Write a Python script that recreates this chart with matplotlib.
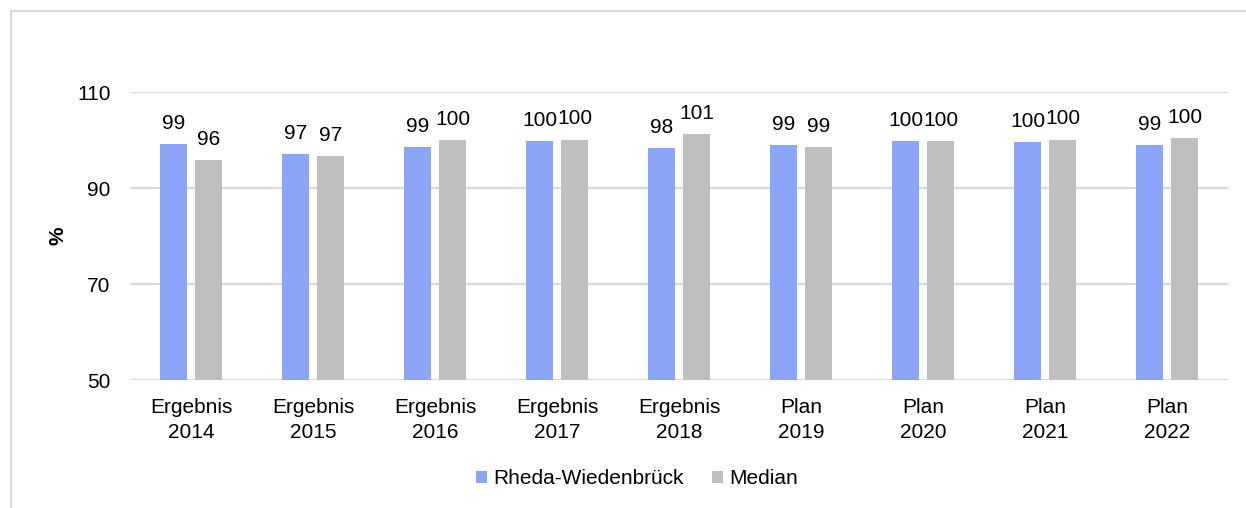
import matplotlib
matplotlib.use('Agg')
import matplotlib.pyplot as plt
from matplotlib.lines import Line2D
import numpy as np

plt.rcParams['font.family'] = ['Liberation Sans', 'DejaVu Sans']

categories = ['Ergebnis\n2014', 'Ergebnis\n2015', 'Ergebnis\n2016', 'Ergebnis\n2017',
              'Ergebnis\n2018', 'Plan\n2019', 'Plan\n2020', 'Plan\n2021', 'Plan\n2022']
rheda = [99.1, 97.0, 98.6, 99.8, 98.3, 98.9, 99.8, 99.6, 99.0]
median = [95.8, 96.6, 99.9, 100.1, 101.2, 98.6, 99.8, 100.1, 100.4]
series_names = ['Rheda-Wiedenbrück', 'Median']

blue = '#8BA5F8'
grey = '#BFBFBF'
grid_col = '#D9D9D9'
fs = 15

fig = plt.figure(figsize=(12.46, 5.08), dpi=100)
ax = fig.add_axes([130/1246, 1 - 380/508, 1098/1246, 288/508])

x = np.arange(len(categories))
w = 0.221
off = 0.143
b1 = ax.bar(x - off, np.array(rheda) - 50, w, bottom=50, color=blue, label=series_names[0])
b2 = ax.bar(x + off, np.array(median) - 50, w, bottom=50, color=grey, label=series_names[1])

for bars, vals in ((b1, rheda), (b2, median)):
    for rect, v in zip(bars, vals):
        ax.annotate(f'{v:.0f}', (rect.get_x() + rect.get_width()/2, v),
                    xytext=(0, 8), textcoords='offset points',
                    ha='center', va='bottom', fontsize=fs, color='#000000')

ax.set_xlim(-0.5, 8.5)
ax.set_ylim(50, 110)
ax.set_yticks([50, 70, 90, 110])
ax.set_xticks(x)
ax.set_xticklabels(categories, fontsize=fs, linespacing=1.4)
ax.tick_params(axis='both', length=0, labelsize=fs, colors='#000000')
ax.tick_params(axis='y', pad=14)
ax.tick_params(axis='x', pad=13)
ax.yaxis.grid(True, color=grid_col, linewidth=1.6)
ax.set_axisbelow(True)
for s in ax.spines.values():
    s.set_visible(False)

ax.set_ylabel('%', fontsize=fs, fontweight='bold')
ax.yaxis.set_label_coords(-0.057, 0.5)

fig.legend(loc='center', bbox_to_anchor=(637/1246, 29/508), ncol=2, frameon=False,
           fontsize=fs, handlelength=0.5, handleheight=0.5, handletextpad=0.3,
           columnspacing=1.4)

# outer chart border (only top and left visible in crop)
x0 = 10.5/1246
y1 = 1 - 10.5/508
fig.add_artist(Line2D([x0, x0], [0, y1], color=grid_col, linewidth=1.5))
fig.add_artist(Line2D([x0, 1], [y1, y1], color=grid_col, linewidth=1.5))

plt.savefig('out.png', dpi=100)
